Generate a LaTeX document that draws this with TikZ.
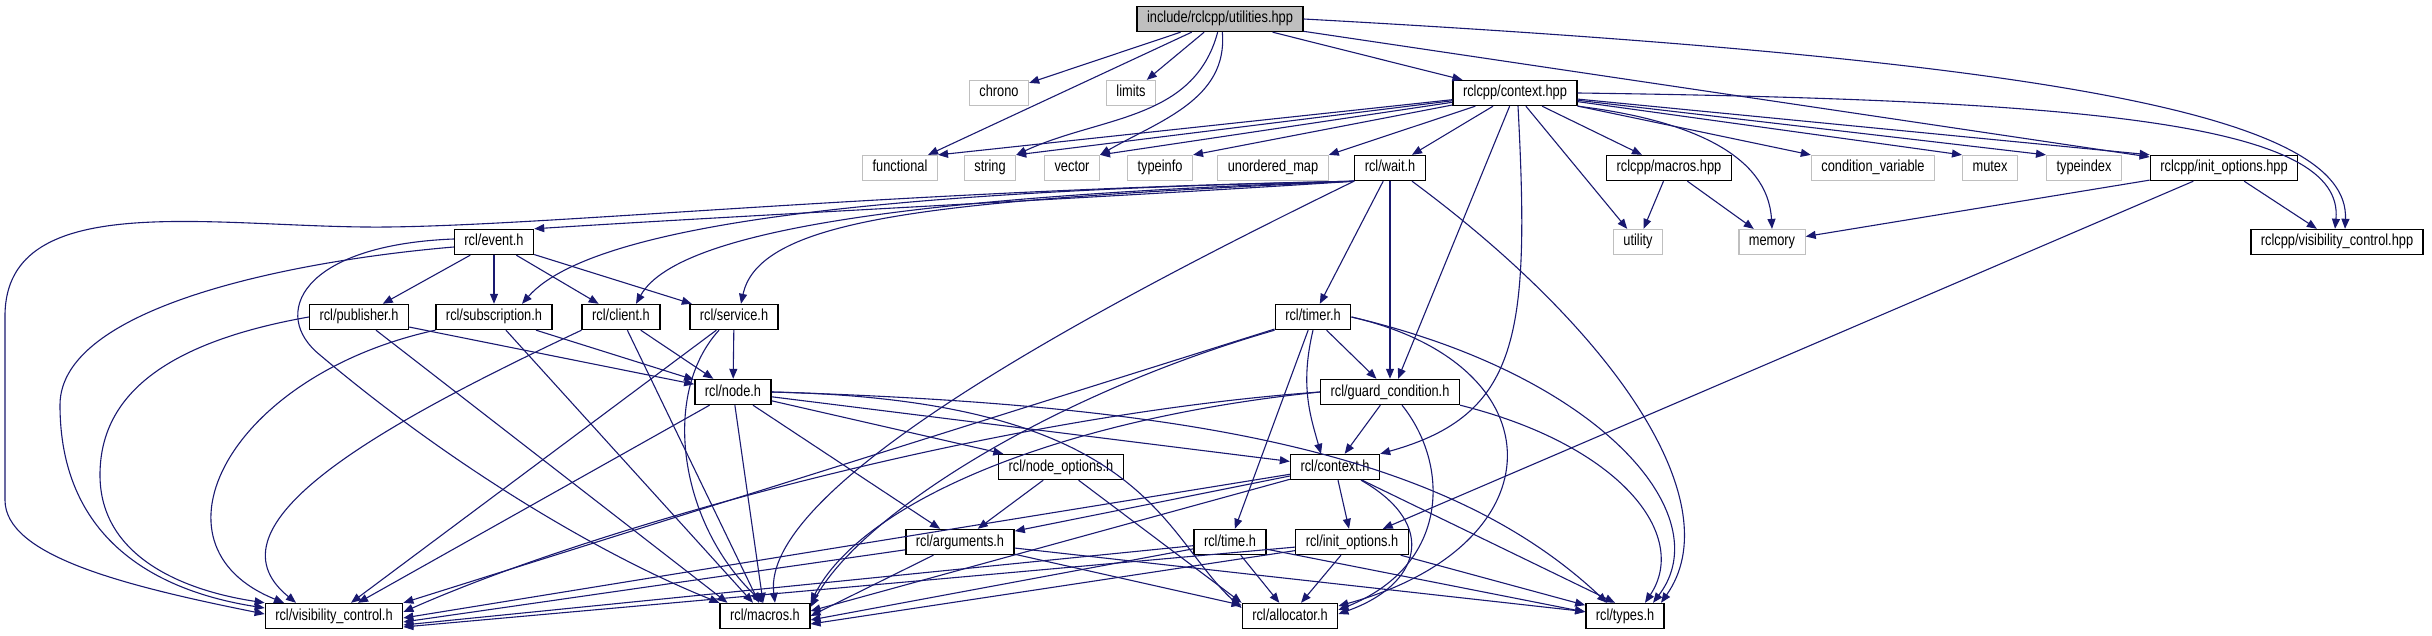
\documentclass[tikz,border=0pt]{standalone}
\usepackage{fontspec}
\setmainfont{Liberation Sans}[FakeStretch=0.8]
\usetikzlibrary{arrows.meta, calc}
\definecolor{edgeblue}{RGB}{25,25,112}
\definecolor{sysgray}{RGB}{191,191,191}

\begin{document}
\begin{tikzpicture}[x=1pt, y=1pt, font=\fontsize{16}{18}\selectfont,
        box/.style={rectangle, draw=black, line width=1.4pt, fill=white, minimum height=25pt,
                    inner xsep=10pt, text height=11pt, text depth=3pt, inner ysep=1pt},
        sysbox/.style={box, draw=sysgray, line width=1.2pt},
        rootbox/.style={box, fill=sysgray},
        edge/.style={-{Triangle[length=10pt,width=8pt]}, draw=edgeblue, line width=1.1pt}
    ]
        \useasboundingbox (0,0) rectangle (2432,635);
        % top rows
        \node[rootbox] (util) at (1220,616) {include/rclcpp/utilities.hpp};
        \node[sysbox] (chrono) at (999,542) {chrono};
        \node[sysbox] (limits) at (1131,542) {limits};
        \node[box] (ctxhpp) at (1515,542) {rclcpp/context.hpp};
        \node[sysbox] (functional) at (900,467) {functional};
        \node[sysbox] (string) at (990,467) {string};
        \node[sysbox] (vector) at (1072,467) {vector};
        \node[sysbox] (typeinfo) at (1160,467) {typeinfo};
        \node[sysbox] (umap) at (1273,467) {unordered\_map};
        \node[box] (wait) at (1390,467) {rcl/wait.h};
        \node[box] (macroshpp) at (1669,467) {rclcpp/macros.hpp};
        \node[sysbox] (condvar) at (1873,467) {condition\_variable};
        \node[sysbox] (mutex) at (1990,467) {mutex};
        \node[sysbox] (typeindex) at (2084,467) {typeindex};
        \node[box] (initopthpp) at (2224,467) {rclcpp/init\_options.hpp};
        \node[box] (event) at (494,393) {rcl/event.h};
        \node[sysbox] (utility) at (1638,393) {utility};
        \node[sysbox] (memory) at (1772,393) {memory};
        \node[box] (visctlhpp) at (2337,393) {rclcpp/visibility\_control.hpp};
        % rcl headers
        \node[box] (publisher) at (359,318) {rcl/publisher.h};
        \node[box] (subscription) at (494,318) {rcl/subscription.h};
        \node[box] (client) at (621,318) {rcl/client.h};
        \node[box] (service) at (734,318) {rcl/service.h};
        \node[box] (timer) at (1313,318) {rcl/timer.h};
        \node[box] (node) at (733,243) {rcl/node.h};
        \node[box] (guard) at (1390,243) {rcl/guard\_condition.h};
        \node[box] (nodeopt) at (1061,168) {rcl/node\_options.h};
        \node[box] (context) at (1335,168) {rcl/context.h};
        \node[box] (arguments) at (960,93) {rcl/arguments.h};
        \node[box] (time) at (1230,93) {rcl/time.h};
        \node[box] (initopt) at (1352,93) {rcl/init\_options.h};
        \node[box] (visctl) at (334,19) {rcl/visibility\_control.h};
        \node[box] (macros) at (765,19) {rcl/macros.h};
        \node[box] (allocator) at (1290,19) {rcl/allocator.h};
        \node[box] (types) at (1625,19) {rcl/types.h};

        % utilities.hpp
        \draw[edge] (util) -- (chrono);
        \draw[edge] (util) -- (functional);
        \draw[edge] (util) -- (limits);
        \draw[edge] (util.-100) to[out=-105,in=25] (string.north east);
        \draw[edge] (util.-80) to[out=-85,in=30] (vector.north east);
        \draw[edge] (util) -- (ctxhpp);
        \draw[edge] (util) -- (initopthpp);
        \draw[edge] (util.east) .. controls (2050,575) and (2350,520) .. ($(visctlhpp.north)+(8,0)$);
        % context.hpp
        \draw[edge] (ctxhpp) -- (functional.north east);
        \draw[edge] (ctxhpp) -- (string.north east);
        \draw[edge] (ctxhpp) -- (vector.north east);
        \draw[edge] (ctxhpp) -- (typeinfo.north east);
        \draw[edge] (ctxhpp) -- (umap.north east);
        \draw[edge] (ctxhpp) -- (wait);
        \draw[edge] (ctxhpp) -- ($(guard.north)+(8,0)$);
        \draw[edge] ($(ctxhpp.south)+(3,0)$) .. controls (1530,300) and (1520,220) .. (context.north east);
        \draw[edge] (ctxhpp) -- (utility);
        \draw[edge] (ctxhpp) -- (macroshpp);
        \draw[edge] (ctxhpp.south east) .. controls (1690,515) and (1768,480) .. (memory.north);
        \draw[edge] (ctxhpp) -- (condvar.north west);
        \draw[edge] (ctxhpp) -- (mutex.north west);
        \draw[edge] (ctxhpp) -- (typeindex.north west);
        \draw[edge] (ctxhpp) -- (initopthpp.north west);
        \draw[edge] (ctxhpp.east) .. controls (2100,535) and (2345,510) .. ($(visctlhpp.north)+(-2,0)$);
        % init_options.hpp, macros.hpp
        \draw[edge] (initopthpp) -- (memory);
        \draw[edge] (initopthpp) -- (visctlhpp);
        \draw[edge] (initopthpp) -- (initopt);
        \draw[edge] (macroshpp) -- (utility);
        \draw[edge] (macroshpp) -- (memory);
        % wait.h
        \draw[edge] (wait.south west) .. controls (1150,440) and (750,420) .. (event.north east);
        \draw[edge] (wait.south west) .. controls (950,445) and (600,420) .. ($(subscription.north)+(28,0)$);
        \draw[edge] (wait.south west) .. controls (950,440) and (680,410) .. ($(client.north)+(15,0)$);
        \draw[edge] (wait.south west) .. controls (950,435) and (760,420) .. ($(service.north)+(7,0)$);
        \draw[edge] (wait.south west) .. controls (900,445) and (560,410) .. (388,408)
            .. controls (220,406) and (5,450) .. (5,319) -- (5,135)
            .. controls (5,80) and (120,50) .. ($(visctl.west)+(0,2)$);
        \draw[edge] (wait.south west) .. controls (1100,330) and (760,150) .. ($(macros.north)+(10,0)$);
        \draw[edge] (wait) -- (timer);
        \draw[edge] (wait) -- (guard);
        \draw[edge] ($(wait.south)+(22,0)$) .. controls (1620,300) and (1730,130) .. ($(types.north)+(36,0)$);
        % event.h
        \draw[edge] (event) -- (publisher);
        \draw[edge] (event) -- (subscription);
        \draw[edge] (event) -- (client);
        \draw[edge] (event) -- (service);
        \draw[edge] ($(event.west)+(0,-5)$) .. controls (300,375) and (60,330) .. (60,230)
            .. controls (60,100) and (150,45) .. ($(visctl.west)+(0,8)$);
        \draw[edge] ($(event.west)+(0,3)$) .. controls (300,390) and (270,320) .. (320,280)
            .. controls (450,170) and (600,80) .. (macros.north west);
        % publisher, subscription, client, service
        \draw[edge] (publisher.west) .. controls (150,290) and (100,230) .. (100,160)
            .. controls (100,80) and (180,45) .. (visctl.north west);
        \draw[edge] (publisher) -- ($(macros.north west)+(8,0)$);
        \draw[edge] (publisher) -- (node);
        \draw[edge] (subscription.south west) .. controls (230,260) and (140,90) .. ($(visctl.north)+(-50,0)$);
        \draw[edge] (subscription) -- ($(macros.north)+(-12,0)$);
        \draw[edge] (subscription) -- (node);
        \draw[edge] (client.south west) .. controls (380,210) and (200,110) .. ($(visctl.north)+(-38,0)$);
        \draw[edge] (client) -- ($(macros.north)+(-6,0)$);
        \draw[edge] (client) -- (node);
        \draw[edge] (service) -- (node);
        \draw[edge] (service) -- ($(visctl.north)+(17,0)$);
        \draw[edge] ($(service.south)+(-15,0)$) .. controls (660,240) and (680,110) .. ($(macros.north)+(-2,0)$);
        % node.h, node_options.h
        \draw[edge] (node) -- ($(visctl.north)+(24,0)$);
        \draw[edge] (node) -- (macros);
        \draw[edge] (node) -- (arguments);
        \draw[edge] (node) -- (nodeopt);
        \draw[edge] (node) -- (context);
        \draw[edge] (node.east) .. controls (1150,235) and (1160,100) .. ($(allocator.west)+(0,8)$);
        \draw[edge] (node.east) .. controls (1200,230) and (1450,180) .. ($(types.north)+(-18,0)$);
        \draw[edge] (nodeopt) -- (arguments);
        \draw[edge] (nodeopt) -- (allocator.north west);
        % guard_condition.h, timer.h
        \draw[edge] (guard.west) .. controls (1000,220) and (600,110) .. ($(visctl.east)+(0,4)$);
        \draw[edge] (guard.west) .. controls (1050,215) and (860,130) .. (macros.north east);
        \draw[edge] (guard) -- (context);
        \draw[edge] ($(guard.south)+(12,0)$) .. controls (1450,170) and (1450,70) .. ($(allocator.east)+(0,6)$);
        \draw[edge] (guard.south east) .. controls (1620,190) and (1690,100) .. ($(types.north)+(20,0)$);
        \draw[edge] (timer) -- (visctl.north east);
        \draw[edge] (timer.south west) .. controls (1050,240) and (860,120) .. ($(macros.east)+(0,9)$);
        \draw[edge] (timer) -- (time);
        \draw[edge] (timer.south) .. controls (1300,250) and (1310,220) .. ($(context.north)+(-14,0)$);
        \draw[edge] (timer) -- (guard);
        \draw[edge] (timer.east) .. controls (1560,270) and (1560,90) .. ($(allocator.east)+(0,10)$);
        \draw[edge] (timer.east) .. controls (1600,260) and (1720,120) .. ($(types.north)+(28,0)$);
        % context.h
        \draw[edge] (context) -- (arguments);
        \draw[edge] (context) -- ($(visctl.east)+(0,-2)$);
        \draw[edge] (context) -- ($(macros.east)+(0,5)$);
        \draw[edge] (context) -- (initopt);
        \draw[edge] ($(context.south)+(26,0)$) .. controls (1440,110) and (1420,50) .. ($(allocator.east)+(0,2)$);
        \draw[edge] (context) -- ($(types.north)+(-10,0)$);
        % arguments.h, time.h, init_options.h
        \draw[edge] (arguments) -- ($(visctl.east)+(0,-6)$);
        \draw[edge] (arguments) -- (macros.east);
        \draw[edge] (arguments) -- (allocator);
        \draw[edge] (arguments) -- (types);
        \draw[edge] (time) -- ($(visctl.east)+(0,-9)$);
        \draw[edge] (time) -- ($(macros.east)+(0,-4)$);
        \draw[edge] (time) -- (allocator);
        \draw[edge] (time) -- ($(types.west)+(0,4)$);
        \draw[edge] (initopt) -- ($(visctl.east)+(0,-11)$);
        \draw[edge] (initopt) -- ($(macros.east)+(0,-8)$);
        \draw[edge] (initopt) -- (allocator);
        \draw[edge] (initopt) -- (types);
    \end{tikzpicture}
\end{document}
